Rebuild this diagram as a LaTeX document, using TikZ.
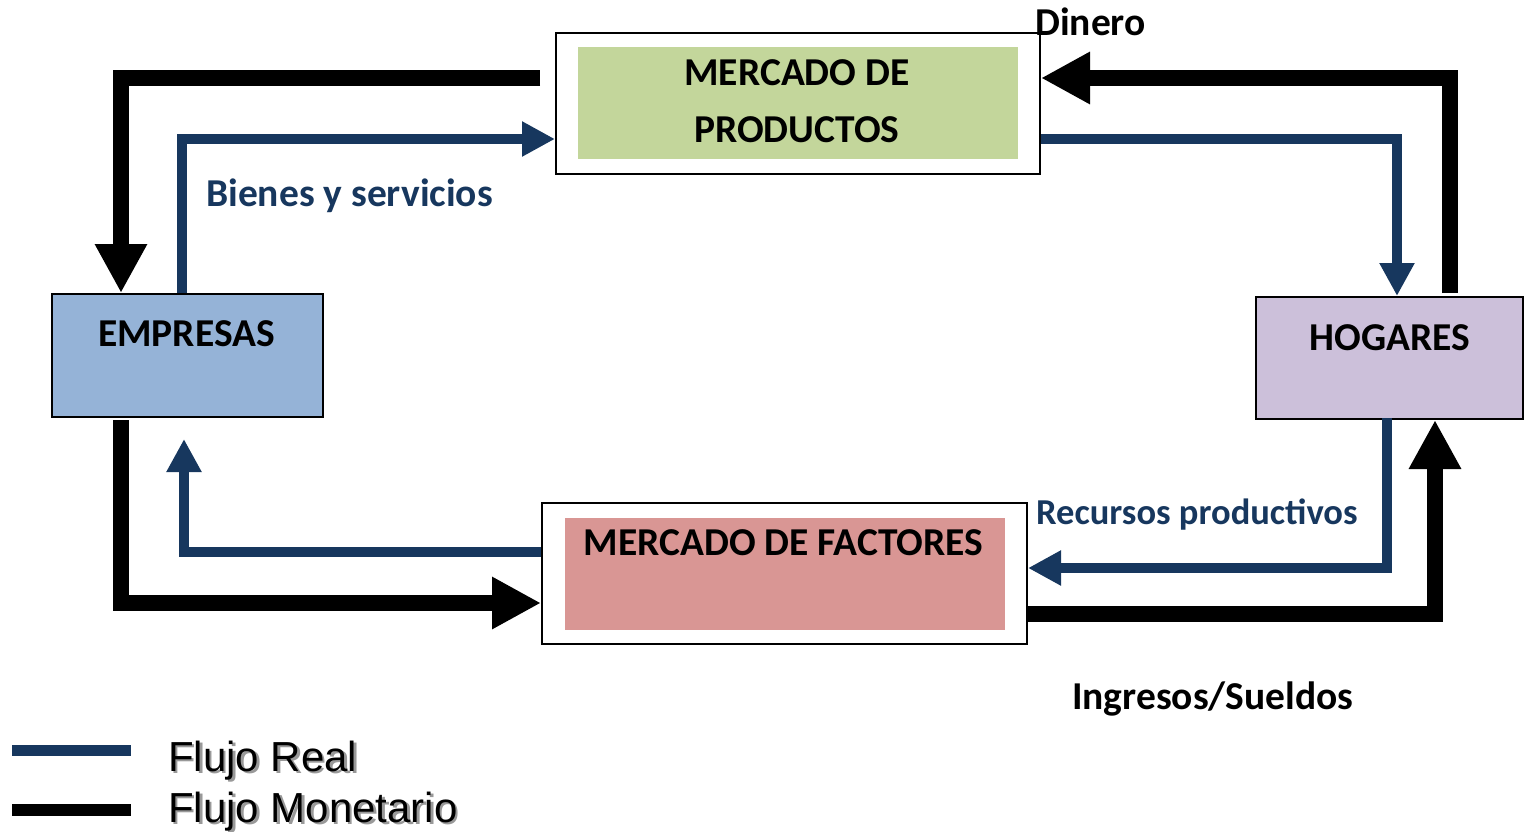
\documentclass[tikz,border=0pt]{standalone}
\usepackage{fontspec}
\setmainfont{Carlito}
\newfontfamily\legfont{Liberation Sans}
\usetikzlibrary{arrows.meta,calc}
\definecolor{realblue}{HTML}{17375E}
\definecolor{prodgreen}{HTML}{C3D69B}
\definecolor{empblue}{HTML}{95B3D7}
\definecolor{hogpurple}{HTML}{CCC0DA}
\definecolor{factred}{HTML}{D99694}
\newcommand\shadowedtext[1]{\leavevmode\rlap{\kern2.5pt\raisebox{-2.5pt}{\textcolor{black!40}{#1}}}#1}
\begin{document}
\begin{tikzpicture}[x=1pt,y=-1pt,
  frame/.style={draw=black,line width=2pt,fill=white,inner sep=0pt,anchor=north west},
  filler/.style={inner sep=0pt,draw=none},
  boxlabel/.style={inner sep=0pt,anchor=base,font=\fontsize{39.5}{47}\selectfont\bfseries},
  flowlabel/.style={inner sep=0pt,anchor=base west,font=\fontsize{39.5}{47}\selectfont\bfseries},
  money/.style={line width=16pt,black,-{Triangle[length=49pt,width=49pt]}},
  real/.style={line width=9.5pt,realblue,-{Triangle[length=33pt,width=33pt]}},
  legendlabel/.style={inner sep=0pt,anchor=base west,font=\legfont\fontsize{42}{48}\selectfont}
]
\useasboundingbox (0,0) rectangle (1524,832);

% boxes
\node[frame,minimum width=484pt,minimum height=141pt] (prod) at (555,32) {};
\node[filler,fill=prodgreen,minimum width=440pt,minimum height=112pt] (prodin) at (prod.center) {};
\node[frame,minimum width=485pt,minimum height=141pt] (fact) at (541,502) {};
\node[filler,fill=factred,minimum width=440pt,minimum height=112pt] (factin) at (fact.center) {};
\node[frame,fill=empblue,minimum width=271pt,minimum height=123pt] (emp) at (51,293) {};
\node[frame,fill=hogpurple,minimum width=267pt,minimum height=122pt] (hog) at (1255,296) {};

% box texts
\node[boxlabel] (prodt1) at (797,86) {MERCADO DE};
\node[boxlabel] (prodt2) at (797,143) {PRODUCTOS};
\node[boxlabel] (empt) at (186.5,346) {EMPRESAS};
\node[boxlabel] (hogt) at (1390,350) {HOGARES};
\node[boxlabel] (factt) at (783.5,555) {MERCADO DE FACTORES};

% monetary flows
\draw[money] ($(prod.north west)+(-15,46)$) -| ($(emp.north west)+(70,0)$);
\draw[money] ($(hog.north west)+(195,-3)$) |- ($(prod.north east)+(0,46)$);
\draw[money] ($(emp.south west)+(70,2)$) |- ($(fact.north west)+(0,101)$);
\draw[money] ($(fact.north east)+(0,112)$) -| ($(hog.south west)+(180,0)$);

% real flows
\draw[real] ($(emp.north west)+(131,0)$) |- ($(prod.north west)+(0,107)$);
\draw[real] ($(prod.north east)+(0,107)$) -| ($(hog.north west)+(142,0)$);
\draw[real] ($(hog.south west)+(132,-2)$) |- ($(fact.north east)+(0,66)$);
\coordinate (realend) at ($(emp.south west)+(133,21)$);
\draw[real] ($(fact.north west)+(0,50)$) -| (realend);

% flow labels
\node[flowlabel] (dinero) at (1035,36) {Dinero};
\node[flowlabel,text=realblue] (bienes) at (206,207) {Bienes y servicios};
\node[flowlabel,text=realblue,font=\fontsize{36.5}{44}\selectfont\bfseries] (recursos) at (1036,524) {Recursos productivos};
\node[flowlabel] (ingresos) at (1072,709) {Ingresos/Sueldos};

% legend
\coordinate (lr1) at (12,750);
\coordinate (lr2) at (131,750);
\coordinate (lm1) at (12,810);
\coordinate (lm2) at (131,810);
\draw[realblue,line width=11pt] (lr1) -- (lr2);
\draw[black,line width=12pt] (lm1) -- (lm2);
\node[legendlabel] (legreal) at (168,771) {\shadowedtext{Flujo Real}};
\node[legendlabel] (legmon) at (168,822) {\shadowedtext{Flujo Monetario}};
\end{tikzpicture}
\end{document}
